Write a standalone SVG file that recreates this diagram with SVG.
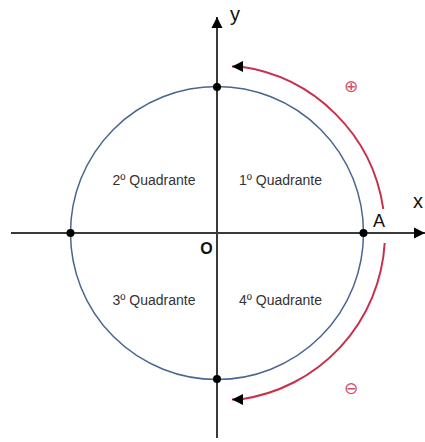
<svg xmlns="http://www.w3.org/2000/svg" width="425" height="442" viewBox="0 0 425 442">
<style>
.axis{stroke:#3a3a3a;stroke-width:2;fill:none}
.circ{stroke:#4a6590;stroke-width:1.5;fill:none}
.arc{stroke:#c8304c;stroke-width:2;fill:none}
.dot{fill:#000}
.q{font-family:"Liberation Sans",Arial,sans-serif;font-size:14px;fill:#333;text-anchor:middle}
.lbl{font-family:"Liberation Sans",Arial,sans-serif;fill:#111}
.sign{font-family:"DejaVu Sans",sans-serif;font-size:17px;fill:#d0506a;text-anchor:middle}
</style>
<defs>
<marker id="ah" viewBox="0 0 10 10" refX="10" refY="5" markerWidth="11" markerHeight="12" markerUnits="userSpaceOnUse" orient="auto">
<path d="M0,0 L10,5 L0,10 z" fill="#000"/>
</marker>
</defs>
<g id="connectors">
<line id="x-axis" class="axis" x1="11" y1="233" x2="425" y2="233" marker-end="url(#ah)"/>
<line id="y-axis" class="axis" x1="217" y1="438" x2="217" y2="17" marker-end="url(#ah)"/>
<path id="arc-positive" class="arc" d="M383.3,209 A168,168 0 0 0 240,66.6 L232,66.6" marker-end="url(#ah)"/>
<path id="arc-negative" class="arc" d="M384.7,243 A168,168 0 0 1 240,399.4 L232,399.4" marker-end="url(#ah)"/>
</g>
<g id="circle">
<circle class="circ" cx="217" cy="233" r="146.5"/>
</g>
<g id="p-top"><circle class="dot" cx="217" cy="87" r="4"/></g>
<g id="p-left"><circle class="dot" cx="70.5" cy="233" r="4"/></g>
<g id="p-A"><circle class="dot" cx="363.5" cy="233" r="4"/><text class="lbl" x="373" y="227" font-size="18">A</text></g>
<g id="p-bottom"><circle class="dot" cx="217" cy="379" r="4"/></g>
<g id="origin"><text class="lbl" x="206.5" y="254" font-size="16" font-weight="bold" text-anchor="middle">O</text></g>
<g id="label-y"><text class="lbl" x="230" y="21" font-size="20">y</text></g>
<g id="label-x"><text class="lbl" x="413" y="208" font-size="20">x</text></g>
<g id="q1"><text class="q" x="280.5" y="185">1º Quadrante</text></g>
<g id="q2"><text class="q" x="154" y="185">2º Quadrante</text></g>
<g id="q3"><text class="q" x="154" y="305">3º Quadrante</text></g>
<g id="q4"><text class="q" x="280.5" y="305">4º Quadrante</text></g>
<g id="sign-plus"><text class="sign" x="351" y="92">⊕</text></g>
<g id="sign-minus"><text class="sign" x="351" y="394">⊖</text></g>
</svg>
